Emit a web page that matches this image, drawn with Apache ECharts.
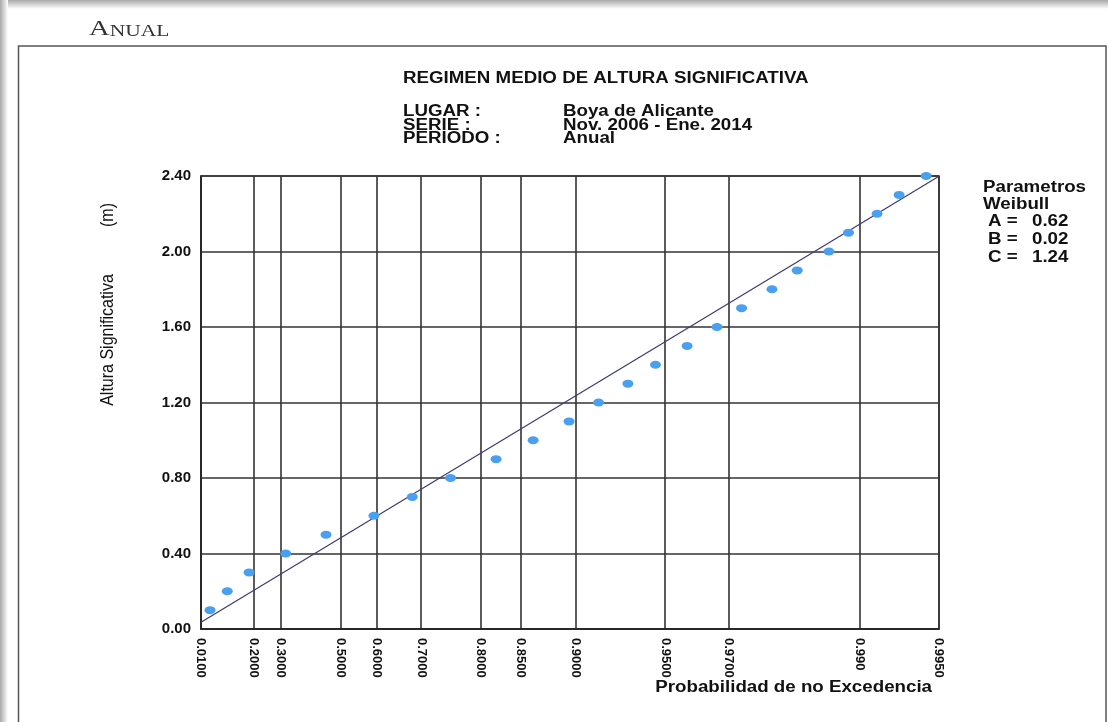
<!DOCTYPE html>
<html>
<head>
<meta charset="utf-8">
<script src="https://cdn.jsdelivr.net/npm/echarts@6/dist/echarts.min.js"></script>
<style>
html,body{margin:0;padding:0;background:#fff;}
#chart{width:1108px;height:722px;}
</style>
</head>
<body>
<div id="chart"></div>
<script>
// ---- data ----
const weibullA = 0.62;
const weibullB = 0.02;
const weibullC = 1.24;
const tickProbs = [0.01, 0.2, 0.3, 0.5, 0.6, 0.7, 0.8, 0.85, 0.9, 0.95, 0.97, 0.99, 0.995];
const tickLabels = ['0.0100', '0.2000', '0.3000', '0.5000', '0.6000', '0.7000', '0.8000', '0.8500', '0.9000', '0.9500', '0.9700', '0.990', '0.9950'];
const heights = [0.1, 0.2, 0.3, 0.4, 0.5, 0.6, 0.7, 0.8, 0.9, 1.0, 1.1, 1.2, 1.3, 1.4, 1.5, 1.6, 1.7, 1.8, 1.9, 2.0, 2.1, 2.2, 2.3, 2.4];
const probs = [0.037, 0.098, 0.181, 0.319, 0.456, 0.593, 0.682, 0.754, 0.821, 0.863, 0.895, 0.916, 0.933, 0.946, 0.958, 0.967, 0.973, 0.979, 0.983, 0.987, 0.989, 0.9914, 0.9929, 0.9944];
const yMin = 0, yMax = 2.4, yStep = 0.4;

// Weibull probability-paper abscissa
function wx(p) { return Math.pow(-Math.log(1 - p), 1 / weibullC); }

const tickT = tickProbs.map(wx);
const points = probs.map((p, i) => [wx(p), heights[i]]);
const xMin = wx(tickProbs[0]);
const xMax = wx(tickProbs[tickProbs.length - 1]);
const fitLine = [xMin, xMax].map(t => [t, weibullB + weibullA * t]);

const SX = 1.17;
const FONT = '"Liberation Sans", Arial, sans-serif';
function txt(str, x, y, o) {
  o = o || {};
  const rot = o.rot || 0;
  return {
    type: 'text', x: x, y: y, z: 10,
    rotation: rot,
    scaleX: rot ? 1 : (o.sx || SX),
    scaleY: rot ? (o.sx || SX) : 1,
    style: {
      text: str, x: 0, y: 0,
      fontSize: o.size || 16, fontWeight: o.weight || 'bold',
      fontFamily: o.family || FONT,
      fill: o.color || '#111',
      align: o.align || 'left', textAlign: o.align || 'left',
      verticalAlign: 'middle', textVerticalAlign: 'middle',
      rich: o.rich
    }
  };
}

const chart = echarts.init(document.getElementById('chart'), null, {renderer: 'canvas'});
chart.setOption({
  backgroundColor: '#fff',
  animation: false,
  grid: {left: 201, top: 176, right: 169, bottom: 93, show: true, borderColor: '#333', borderWidth: 1.5},
  xAxis: {
    type: 'value', min: xMin, max: xMax,
    axisLine: {show: true, onZero: false, lineStyle: {color: '#222', width: 1.5}},
    axisTick: {show: false, customValues: tickT},
    splitLine: {show: true, lineStyle: {color: '#333', width: 1.6}},
    axisLabel: {
      customValues: tickT, rotate: -90, margin: 9,
      padding: [0, 0, 12, 0],
      fontSize: 13, fontWeight: 'bold', fontFamily: FONT, color: '#111',
      formatter: function (v) {
        let best = 0;
        for (let i = 0; i < tickT.length; i++) if (Math.abs(tickT[i] - v) < Math.abs(tickT[best] - v)) best = i;
        return tickLabels[best];
      }
    }
  },
  yAxis: {
    type: 'value', min: yMin, max: yMax, interval: yStep,
    axisLine: {show: true, lineStyle: {color: '#222', width: 1.5}},
    axisTick: {show: false},
    splitLine: {show: true, lineStyle: {color: '#333', width: 1.6}},
    axisLabel: {
      margin: 10, padding: [0, 0, 8, 0],
      fontSize: 15, fontWeight: 'bold', fontFamily: FONT, color: '#111',
      formatter: v => v.toFixed(2)
    }
  },
  series: [
    {
      type: 'line', data: fitLine, symbol: 'none', z: 3,
      lineStyle: {color: '#3e3a70', width: 1.2}
    },
    {
      type: 'scatter', data: points, symbol: 'circle', symbolSize: [11, 8], z: 4,
      itemStyle: {color: '#4aa0f0', opacity: 1}
    }
  ],
  graphic: [
    {type: 'rect', z: 0, shape: {x: 0, y: 0, width: 1108, height: 9},
     style: {fill: new echarts.graphic.LinearGradient(0, 0, 0, 1, [{offset: 0, color: '#a8a8a8'}, {offset: 1, color: '#ffffff'}])}},
    {type: 'rect', z: 0, shape: {x: 0, y: 0, width: 8, height: 722},
     style: {fill: new echarts.graphic.LinearGradient(0, 0, 1, 0, [{offset: 0, color: '#a8a8a8'}, {offset: 1, color: '#ffffff'}])}},
    {type: 'rect', z: 1, shape: {x: 18.5, y: 46, width: 1087.5, height: 700},
     style: {fill: 'none', stroke: '#555', lineWidth: 1.5}},
    txt('{a|A}{b|NUAL}', 89, 29, {weight: 'normal', family: '"Liberation Serif", "DejaVu Serif", serif', color: '#333', sx: 1.3,
        rich: {a: {fontSize: 22, fontFamily: '"Liberation Serif", serif', fill: '#333', color: '#333'}, b: {fontSize: 16.5, fontFamily: '"Liberation Serif", serif', fill: '#333', color: '#333', verticalAlign: 'bottom'}}}),
    txt('REGIMEN MEDIO DE ALTURA SIGNIFICATIVA', 403, 79),
    txt('LUGAR :', 403, 112),
    txt('SERIE :', 403, 125.5),
    txt('PERIODO :', 403, 139),
    txt('Boya de Alicante', 563, 112),
    txt('Nov. 2006 - Ene. 2014', 563, 125.5),
    txt('Anual', 563, 139),
    txt('Parametros', 983, 188),
    txt('Weibull', 983, 205),
    txt('A =', 988, 222),
    txt('0.62', 1032, 222),
    txt('B =', 988, 240),
    txt('0.02', 1032, 240),
    txt('C =', 988, 258),
    txt('1.24', 1032, 258),
    txt('Altura Significativa', 108, 340, {rot: Math.PI / 2, weight: 'normal', size: 16, align: 'center'}),
    txt('(m)', 108, 215, {rot: Math.PI / 2, weight: 'normal', size: 16, align: 'center'}),
    txt('Probabilidad de no Excedencia', 932, 688, {align: 'right'})
  ]
});
</script>
</body>
</html>
